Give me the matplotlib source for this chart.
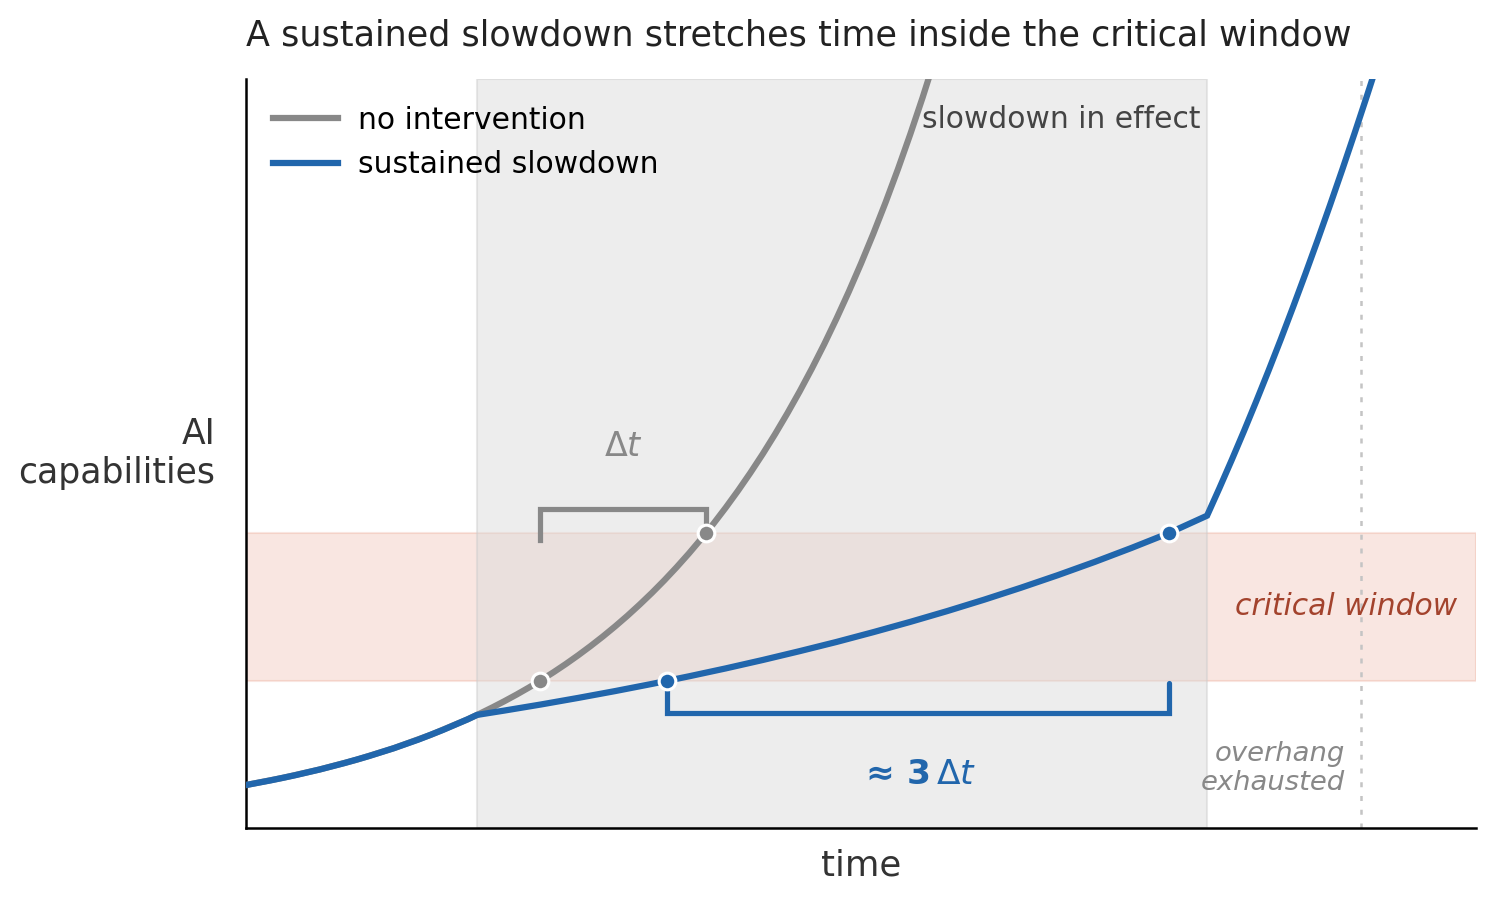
"""
Sustained slowdown: time stretched inside the critical window.
"""

import matplotlib.pyplot as plt

# curve samples (time, capability)
base_t = [0.0, 0.3, 0.6, 0.9, 1.2, 1.5, 1.8, 1.9, 2.0, 2.1, 2.2, 2.3, 2.4, 2.5, 2.6, 2.7,
          2.8, 2.9, 3.0, 3.1, 3.2, 3.3, 3.4, 3.5, 3.6, 3.7, 3.8, 3.9, 4.0, 4.1, 4.2, 4.3,
          4.4, 4.5, 4.6, 4.7, 4.8, 4.9, 5.0, 5.1, 5.2, 5.3, 5.4, 5.5, 5.6]
base_y = [0.574, 0.670, 0.782, 0.912, 1.065, 1.243, 1.450, 1.527, 1.608, 1.693, 1.782,
          1.876, 1.976, 2.080, 2.190, 2.306, 2.428, 2.556, 2.691, 2.833, 2.983, 3.140,
          3.306, 3.481, 3.665, 3.859, 4.063, 4.278, 4.504, 4.742, 4.992, 5.256, 5.534,
          5.826, 6.134, 6.458, 6.800, 7.159, 7.538, 7.936, 8.355, 8.797, 9.262, 9.751,
          10.267]

slow_t = [0.0, 0.2, 0.4, 0.6, 0.8, 1.0, 1.2, 1.4, 1.6, 1.8, 1.878, 2.1, 2.4, 2.7, 3.0,
          3.3, 3.6, 3.9, 4.2, 4.5, 4.8, 5.1, 5.4, 5.7, 6.0, 6.3, 6.6, 6.9, 7.2, 7.5, 7.813,
          7.913, 8.013, 8.113, 8.213, 8.313, 8.413, 8.513, 8.613, 8.713, 8.813, 8.913,
          9.013, 9.113, 9.213]
slow_y = [0.574, 0.636, 0.705, 0.782, 0.867, 0.961, 1.065, 1.180, 1.309, 1.450, 1.510,
          1.568, 1.650, 1.737, 1.828, 1.924, 2.025, 2.131, 2.243, 2.361, 2.484, 2.615,
          2.752, 2.896, 3.048, 3.208, 3.376, 3.553, 3.740, 3.936, 4.170,
          4.536, 4.912, 5.299, 5.698, 6.107, 6.527, 6.959, 7.401, 7.854, 8.318, 8.793,
          9.279, 9.776, 10.284]

window = (1.963, 3.939)        # critical window (capability)
slowdown = (1.878, 7.813)      # slowdown in effect (time)
overhang_t = 9.065

base_hits = [2.388, 3.740]     # base curve enters / leaves window
slow_hits = [3.420, 7.504]     # slowed curve enters / leaves window

GRAY = "#888888"
BLUE = "#2166ac"

fig = plt.figure(figsize=(9.96, 6.007), dpi=150)
ax = fig.add_axes([0.1647, 0.0810, 0.8233, 0.8313])

ax.axhspan(*window, facecolor="#e0785a", alpha=0.18, edgecolor="#e0785a", lw=1, zorder=1)
ax.axvspan(*slowdown, facecolor="#d9d9d9", alpha=0.45, edgecolor="#cccccc", lw=1, zorder=1)
ax.axvline(overhang_t, color="#c4c4c4", lw=1.2, ls=(0, (2, 3.5)), zorder=1)

ax.plot(base_t, base_y, color=GRAY, lw=3, label="no intervention", zorder=3)
ax.plot(slow_t, slow_y, color=BLUE, lw=3, label="sustained slowdown", zorder=4,
        solid_joinstyle="miter")

ax.plot(base_hits, window, "o", color=GRAY, ms=8, mec="white", mew=1.5, zorder=5)
ax.plot(slow_hits, window, "o", color=BLUE, ms=8, mec="white", mew=1.5, zorder=5)

# brackets
ax.plot([base_hits[0], base_hits[0], base_hits[1], base_hits[1]],
        [3.845, 4.259, 4.259, window[1]], color=GRAY, lw=2.5, zorder=4,
        solid_joinstyle="miter")
ax.plot([slow_hits[0], slow_hits[0], slow_hits[1], slow_hits[1]],
        [window[0], 1.535, 1.535, 1.936], color=BLUE, lw=2.5, zorder=4,
        solid_capstyle="round", solid_joinstyle="miter")

ax.text(3.065, 5.10, r"$\Delta t$", color=GRAY, fontsize=16, ha="center", va="center")
ax.text(5.463, 0.72, r"$\mathbf{\approx\,3}\,\Delta t$", color=BLUE, fontsize=16.5,
        ha="center", va="center")
ax.text(7.756, 9.466, "slowdown in effect", color="#444444", fontsize=14.3,
        ha="right", va="center")
ax.text(9.846, 2.964, "critical window", color="#a3432d", fontsize=14.3,
        style="italic", ha="right", va="center")
ax.text(8.935, 0.79, "overhang\nexhausted", color=GRAY, fontsize=13.2,
        style="italic", ha="right", va="center", linespacing=1.15)

ax.set_xlim(0, 10)
ax.set_ylim(0, 10)
ax.set_xticks([])
ax.set_yticks([])
for side in ("top", "right"):
    ax.spines[side].set_visible(False)
for side in ("left", "bottom"):
    ax.spines[side].set_linewidth(1.2)

ax.set_xlabel("time", fontsize=17, color="#333333", labelpad=10)
ax.set_ylabel("AI\ncapabilities", fontsize=16.6, color="#333333", rotation=0,
              ha="right", va="center", linespacing=1.2)
ax.yaxis.set_label_coords(-0.025, 0.5)
ax.set_title("A sustained slowdown stretches time inside the critical window",
             loc="left", fontsize=16.8, color="#222222", pad=16)

ax.legend(loc="upper left", frameon=False, fontsize=14.3, handlelength=2.2,
          handletextpad=0.65, borderaxespad=0.5, labelspacing=0.52)

fig.savefig("out.png", dpi=150, facecolor="white")
